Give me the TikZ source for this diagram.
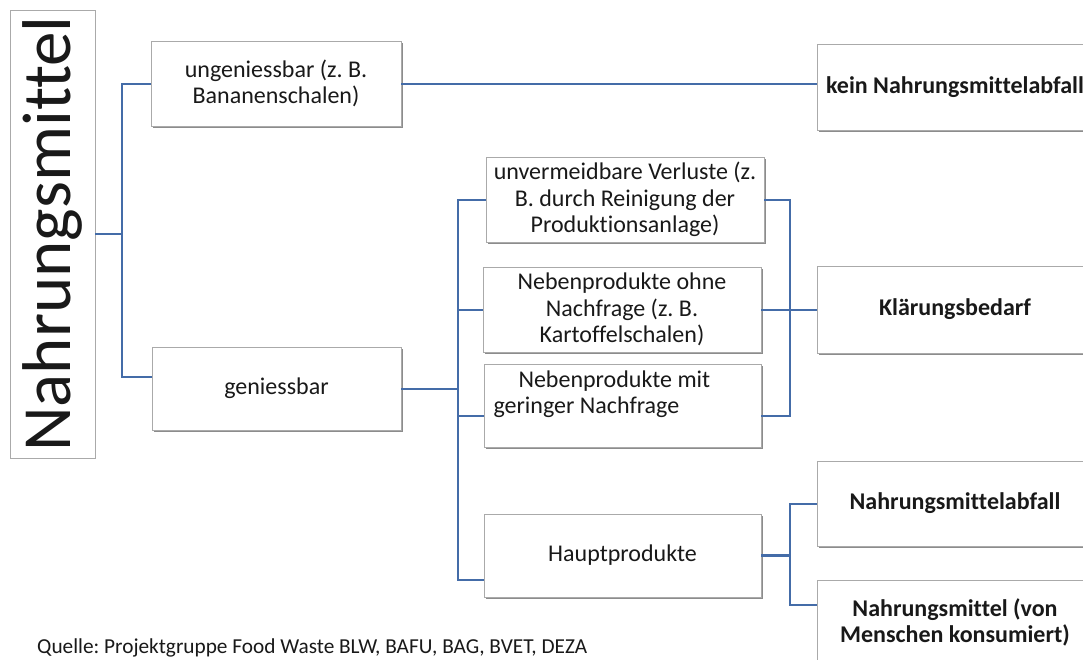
\documentclass[tikz,border=0pt]{standalone}
\usepackage{fontspec}
\setmainfont{Carlito}[Ligatures=NoCommon]
\frenchspacing
\usetikzlibrary{shadows,calc}
\definecolor{connc}{RGB}{68,108,168}
\definecolor{boxline}{RGB}{170,170,170}
\definecolor{txt}{RGB}{25,25,25}
\begin{document}
\begin{tikzpicture}[x=1pt,y=-1pt,
  box/.style={draw=boxline, line width=0.7pt, fill=white,
    drop shadow={shadow xshift=1.8pt, shadow yshift=-2pt, fill=black!60, opacity=0.75},
    align=center, font=\fontsize{24}{26.5}\selectfont, inner sep=0pt, text=txt},
  bbox/.style={box, font=\fontsize{24}{26.5}\selectfont\bfseries},
  conn/.style={draw=connc, line width=2pt},
]
\clip (0,0) rectangle (1083,659);
\fill[white] (0,0) rectangle (1083,659);

% title
\node[draw=boxline, line width=0.8pt, fill=white, rotate=90, minimum width=448, minimum height=85,
  inner sep=0pt, font=\fontsize{69}{72}\selectfont, text=txt] (title) at (52.5,234) {Nahrungsmittel};

% level 1
\node[box, minimum width=250, minimum height=85] (ung) at (276,83.5) {ungeniessbar (z. B.\\Bananenschalen)};
\node[box, minimum width=249, minimum height=83] (gen) at (276.5,388.5) {geniessbar};

% level 2
\node[box, minimum width=278, minimum height=85] (unv) at (625,199.5) {unvermeidbare Verluste (z.\\B. durch Reinigung der\\Produktionsanlage)};
\node[box, minimum width=278, minimum height=85] (nbo) at (622,309.5) {Nebenprodukte ohne\\Nachfrage (z. B.\\Kartoffelschalen)};
\node[box, minimum width=277, minimum height=83, text width=258, align=flush left] (nbm) at (622.5,405.5) {\hspace*{25pt}Nebenprodukte mit\\geringer Nachfrage\\\mbox{}};
\node[box, minimum width=277, minimum height=83] (hpt) at (622.5,555.5) {Hauptprodukte};

% right column
\node[bbox, minimum width=276, minimum height=86] (kein) at (955,87) {kein Nahrungsmittelabfall};
\node[bbox, minimum width=276, minimum height=87] (klar) at (955,309.5) {Klärungsbedarf};
\node[bbox, minimum width=276, minimum height=85] (nma) at (955,503.5) {Nahrungsmittelabfall};
\node[bbox, minimum width=276, minimum height=85] (nmv) at (955,622.5) {Nahrungsmittel (von\\Menschen konsumiert)};

% junctions
\coordinate (j1) at ($(title.south)+(27,0)$);
\coordinate (j2) at ($(gen.east)+(57,0)$);
\coordinate (j3) at ($(nbo.east)+(29,0)$);
\coordinate (j4) at ($(hpt.east)+(29,0)$);

% connectors
\draw[conn] (title.south) -- (j1);
\draw[conn] (ung.west) -| (j1);
\draw[conn] ([yshift=12pt]gen.west) -| (j1);

\draw[conn] (ung.east) -- (ung.east -| kein.west);

\draw[conn] (gen.east) -- (j2);
\draw[conn] (unv.west) -| (j2);
\draw[conn] (nbo.west) -| (j2);
\draw[conn] ([yshift=-10pt]nbm.west) -| (j2);
\draw[conn] ([yshift=-24pt]hpt.west) -| (j2);

\draw[conn] (unv.east) -| (j3);
\draw[conn] (nbo.east) -- (j3);
\draw[conn] ([yshift=-10pt]nbm.east) -| (j3);
\draw[conn] (j3) -- (klar.west);

\draw[conn, line width=3.2pt] (hpt.east) -- (j4);
\draw[conn] (nma.west) -| (j4);
\draw[conn] ([yshift=18pt]nmv.west) -| (j4);

% source
\node[anchor=base west, inner sep=0pt, font=\fontsize{21.3}{24}\selectfont, text=txt] (src) at (37,653) {Quelle: Projektgruppe Food Waste BLW, BAFU, BAG, BVET, DEZA};
\end{tikzpicture}
\end{document}
